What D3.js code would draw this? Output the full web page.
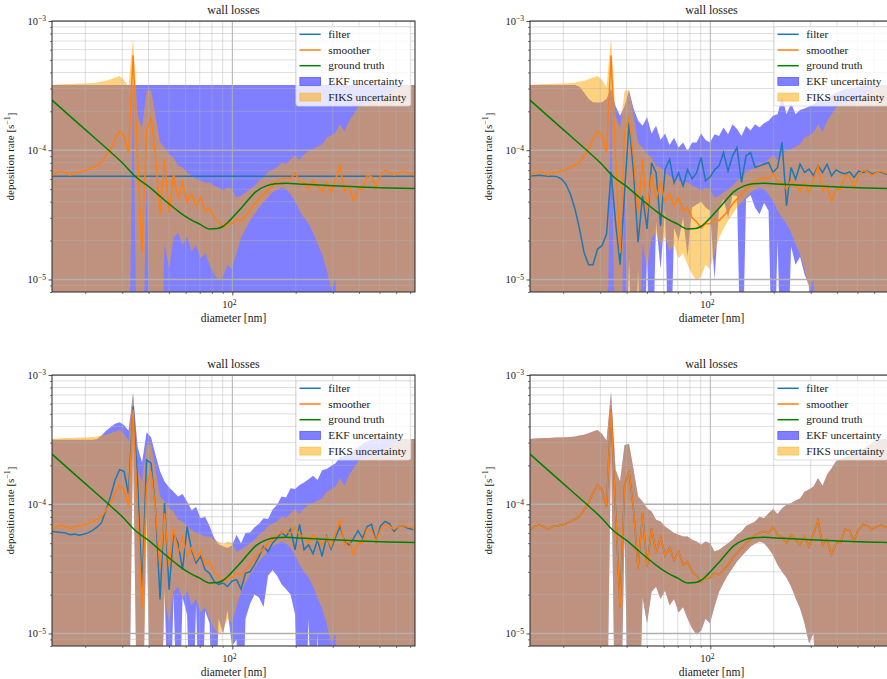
<!DOCTYPE html>
<html lang="en">
<head>
<meta charset="utf-8">
<title>wall losses</title>
<script src="https://d3js.org/d3.v7.min.js"></script>
<style>
    body { margin: 0; background: #fff; }
    text { font-family: "Liberation Serif", "DejaVu Serif", serif; fill: #1a1a1a; }
</style>
</head>
<body>
<script>
    // all rates below are in units of 1e-5 s^-1
    var unit = 1e-5;

    var diam = [13.9, 14.6, 15.34, 16.11, 16.93, 17.78, 18.68, 19.63, 20.62, 21.66,
        22.75, 23.9, 25.11, 26.38, 27.71, 29.11, 30.58, 32.12, 33.74, 35.45,
        37.24, 39.12, 41.09, 43.17, 45.35, 47.64, 50.04, 52.57, 55.22, 58.01,
        60.94, 64.02, 67.25, 70.64, 74.21, 77.95, 81.89, 86.03, 90.36, 94.88,
        99.67, 104.7, 110.0, 115.5, 121.4, 127.5, 133.9, 140.7, 147.8, 155.3,
        163.1, 171.3, 180.0, 189.1, 198.6, 208.7, 219.2, 230.2, 241.9, 254.1,
        266.9, 280.4, 294.5, 309.4, 325.0, 341.5, 358.7, 376.8, 395.8, 415.8,
        436.8, 458.8, 482.0, 506.3, 531.9, 558.8, 587.0, 616.6, 647.7, 680.4,
        714.8, 738];

    var smoother = [6.34, 6.73, 6.9, 6.73, 6.4, 6.73, 6.8, 6.9, 7.05, 7.35,
        7.65, 8.04, 9.05, 10.2, 12.2, 14.1, 12.9, 9.6, 54, 9,
        1.6, 14, 18, 9, 3.2, 8.5, 3.3, 6.5, 4.2, 5.6,
        4.0, 4.6, 3.7, 4.3, 3.4, 3.6, 3.0, 2.8, 2.5, 2.7,
        2.7, 2.95, 2.85, 3.1, 3.4, 3.85, 4.2, 4.55, 5.0, 5.3,
        5.8, 6.0, 6.15, 6.0, 6.65, 5.8, 5.6, 5.0, 5.8, 5.3,
        4.85, 5.6, 4.7, 6.0, 7.5, 4.85, 5.3, 4.05, 5.0, 5.0,
        6.4, 6.25, 5.15, 6.4, 7.0, 6.8, 6.4, 6.7, 6.9, 6.65,
        6.6, 6.3];

    var fiksHi = [32, 32.2, 32.4, 32.5, 32.6, 32.7, 32.8, 32.9, 33, 33.2,
        33.5, 34, 34.5, 35.5, 36.5, 37.5, 35, 31, 74, 18.5,
        15, 28.7, 29.3, 18.5, 11.5, 10.5, 9.3, 8.8, 7.57, 7.35,
        6.73, 6.34, 5.98, 5.8, 5.63, 5.63, 5.3, 5.15, 4.85, 5.15,
        5.0, 4.3, 4.45, 4.7, 5.0, 5.3, 5.8, 6.15, 6.8, 7.05,
        7.35, 8.0, 7.8, 8.5, 9.15, 8.4, 9.3, 9.9, 10.2, 10.7,
        11.1, 12.5, 13.0, 13.7, 15.9, 13.9, 16.9, 19.0, 21.5, 22.3,
        23.1, 23.7, 24.5, 25.5, 26.6, 28.2, 29.6, 31.1, 31.8, 32,
        32, 32];

    var fiksLo = [0.1, 0.1, 0.1, 0.1, 0.1, 0.1, 0.1, 0.1, 0.1, 0.1,
        0.1, 0.1, 0.1, 0.1, 0.1, 0.1, 0.1, 0.1, 30, 0.1,
        0.1, 6, 0.1, 0.1, 0.1, 1.9, 1.2, 2.1, 2.3, 1.85,
        2.15, 1.65, 1.85, 1.45, 1.6, 1.3, 1.1, 0.98, 1.05, 1.3,
        1.2, 1.62, 2.1, 2.46, 2.85, 3.2, 3.6, 3.95, 4.3, 4.7,
        4.95, 5.15, 5.0, 4.55, 4.05, 3.4, 3.0, 2.7, 2.31, 1.88,
        1.57, 1.2, 0.84, 1.0, 0.1, 0.1, 0.1, 0.1, 0.1, 0.1,
        0.1, 0.1, 0.1, 0.1, 0.1, 0.1, 0.1, 0.1, 0.1, 0.1,
        0.1, 0.1];

    var truthDiam = [13.9, 18, 22, 26, 30, 35, 40, 45, 50, 55, 60, 70, 78, 85,
        90, 95, 100, 110, 120, 130, 145, 160, 180, 220, 300, 400, 550, 738];
    var truth = [24.4, 16.8, 12.6, 9.9, 8.0, 6.15, 5.25, 4.45, 3.85, 3.4, 3.07, 2.68, 2.46, 2.48,
        2.57, 2.76, 3.0, 3.55, 4.2, 4.8, 5.3, 5.5, 5.55, 5.45, 5.3, 5.2, 5.1, 5.05];

    // top left: constant filter and flat EKF band
    var flatDiam = [13.9, 738];
    var filter1 = [6.3, 6.3];
    var ekf1Lo = [0.1, 0.1];
    var ekf1Hi = [32, 32];

    // top right
    var filter2 = [6.34, 6.34, 6.4, 6.34, 6.3, 6.3, 6.25, 5.98, 5.45, 4.55,
        3.5, 2.46, 1.62, 1.3, 1.3, 1.72, 1.83, 2.25, 6.8, 2.76,
        1.3, 4.7, 16.4, 6.7, 1.94, 4.44, 2.46, 8.0, 6.7, 2.6,
        7.1, 8.5, 5.6, 6.7, 5.3, 7.1, 6.0, 6.7, 8.8, 5.8,
        6.2, 7.05, 7.57, 9.6, 6.9, 9.05, 10.5, 5.63, 9.05, 9.6,
        7.35, 7.57, 7.8, 8.04, 6.73, 7.35, 11.5, 3.72, 7.35, 5.98,
        7.8, 6.73, 7.14, 6.34, 7.57, 6.73, 7.8, 6.34, 7.05, 6.73,
        6.55, 6.8, 6.15, 6.9, 6.73, 6.9, 6.55, 6.73, 6.8, 6.55,
        6.5, 6.4];
    var ekf2Hi = [32, 32, 32, 32, 32, 32, 32, 32, 32, 32,
        32, 31, 28, 25, 23.5, 23.4, 23.5, 25, 30, 22,
        18.5, 22, 29, 21, 17, 15.5, 18, 13.5, 15.5, 12,
        13.5, 11, 12.5, 10.5, 11.5, 9.8, 11.5, 11.5, 13.5, 12,
        11.5, 13.3, 12.9, 15.0, 13.3, 15.9, 14.6, 12.9, 15.4, 14.2,
        15.9, 15.0, 16.2, 16.9, 18.5, 19.0, 26.3, 19.0, 23.1, 19.0,
        20.5, 21.0, 21.8, 22.7, 24.1, 24.5, 25.5, 26.6, 27.9, 28.8,
        29.6, 30.0, 30.5, 31.1, 31.5, 31.8, 32, 32, 32, 32,
        32, 32];
    var ekf2Lo = [0.1, 0.1, 0.1, 0.1, 0.1, 0.1, 0.1, 0.1, 0.1, 0.1,
        0.1, 0.1, 0.1, 0.1, 0.1, 0.1, 0.1, 0.1, 0.1, 0.1,
        0.1, 0.1, 1.4, 0.1, 1.2, 0.1, 1.6, 0.1, 2.8, 1.2,
        3.5, 0.1, 2.5, 2.0, 3.0, 1.5, 3.6, 3.8, 4.0, 3.6,
        3.4, 1.0, 3.5, 4.2, 3.0, 4.5, 4.4, 0.1, 4.2, 4.5,
        3.6, 3.2, 3.9, 3.4, 0.1, 2.0, 0.1, 0.1, 1.8, 1.3,
        1.5, 1.1, 0.9, 0.1, 0.1, 0.1, 0.1, 0.1, 0.1, 0.1,
        0.1, 0.1, 0.1, 0.1, 0.1, 0.1, 0.1, 0.1, 0.1, 0.1,
        0.1, 0.1];

    // bottom left
    var filter3 = [6.15, 6.1, 6.05, 6.0, 5.8, 5.87, 5.75, 5.85, 6.0, 6.27,
        6.65, 7.2, 9.05, 11.5, 15.4, 18.5, 18, 12, 57, 15.4,
        2.18, 22, 20.8, 9.05, 1.83, 10.2, 2.18, 6.0, 5.0, 3.11,
        6.7, 4.44, 3.5, 3.95, 3.11, 2.93, 2.53, 2.4, 2.46, 2.31,
        2.55, 2.61, 2.2, 2.93, 3.0, 3.4, 3.95, 4.71, 4.3, 5.0,
        5.45, 6.05, 5.63, 6.4, 4.44, 7.0, 4.44, 4.85, 4.14, 5.31,
        3.95, 5.63, 4.5, 5.55, 6.73, 5.15, 4.85, 5.45, 6.25, 5.45,
        6.73, 7.0, 5.15, 6.8, 7.35, 7.05, 6.15, 6.73, 6.85, 6.55,
        6.4, 6.35];
    var ekf3Hi = [31.5, 31.5, 31.5, 31.5, 31.5, 31.5, 31.5, 31.5, 31.5, 31.5,
        32, 34, 37, 39.5, 42, 43, 41, 37, 72, 28,
        21, 36, 33, 24, 18, 15, 13.5, 12.5, 11.5, 12,
        10.5, 9.0, 9.5, 7.8, 8.0, 6.8, 5.5, 4.9, 4.7, 4.6,
        4.8, 5.8, 5.0, 6.0, 6.05, 6.65, 7.05, 7.8, 7.7, 9.05,
        9.9, 11.5, 11.3, 13.3, 13.1, 14.1, 14.7, 15.6, 16.6, 15.4,
        18.3, 18.7, 19.8, 20.8, 23.1, 23.7, 24.8, 26.0, 27.6, 29.3,
        30.7, 31.5, 32, 32, 32, 32, 32, 32, 32, 32,
        32, 32];
    var ekf3Lo = [0.1, 0.1, 0.1, 0.1, 0.1, 0.1, 0.1, 0.1, 0.1, 0.1,
        0.1, 0.1, 0.1, 0.1, 0.1, 0.1, 0.1, 0.1, 32, 0.1,
        0.1, 9, 0.1, 0.1, 0.1, 2.3, 0.1, 2.0, 0.1, 1.9,
        1.4, 0.1, 1.7, 0.1, 1.5, 1.2, 0.1, 1.3, 1.0, 1.5,
        0.8, 0.9, 0.1, 1.3, 1.7, 2.0, 1.9, 1.6, 2.8, 3.1,
        2.8, 2.4, 2.2, 2.0, 1.4, 0.1, 0.1, 1.3, 0.1, 1.0,
        0.1, 0.1, 0.1, 0.1, 0.1, 0.1, 0.1, 0.1, 0.1, 0.1,
        0.1, 0.1, 0.1, 0.1, 0.1, 0.1, 0.1, 0.1, 0.1, 0.1,
        0.1, 0.1];

    var yMajor = [1e-5, 1e-4, 1e-3];
    var yMajorExp = ["\u22125", "\u22124", "\u22123"];
    var yMinor = [8e-6, 9e-6, 2e-5, 3e-5, 4e-5, 5e-5, 6e-5, 7e-5, 8e-5, 9e-5,
        2e-4, 3e-4, 4e-4, 5e-4, 6e-4, 7e-4, 8e-4, 9e-4];
    var xMajor = [100];
    var xMinor = [20, 30, 40, 50, 60, 70, 80, 90, 200, 300, 400, 500, 600, 700];

    var legendItems = [
        {label: "filter", color: "#1f77b4", type: "line"},
        {label: "smoother", color: "#ff7f0e", type: "line"},
        {label: "ground truth", color: "green", type: "line"},
        {label: "EKF uncertainty", color: "blue", type: "patch"},
        {label: "FIKS uncertainty", color: "orange", type: "patch"}
    ];

    var panels = [
        {left: 52, top: 21, fx: flatDiam, filter: filter1, ex: flatDiam, lo: ekf1Lo, hi: ekf1Hi},
        {left: 530, top: 21, fx: diam, filter: filter2, ex: diam, lo: ekf2Lo, hi: ekf2Hi},
        {left: 52, top: 375, fx: diam, filter: filter3, ex: diam, lo: ekf3Lo, hi: ekf3Hi},
        {left: 530, top: 375, fx: diam, filter: smoother, ex: diam, lo: fiksLo, hi: fiksHi}
    ];

    var aw = 363, ah = 271;

    var x = d3.scaleLog().domain([13.9, 738]).range([0, aw]);
    var y = d3.scaleLog().domain([8e-6, 1e-3]).range([ah, 0]);

    var svg = d3.select("body").append("svg")
        .attr("width", 887)
        .attr("height", 679);

    function band(xs, lo, hi) {
        return d3.area()
            .x(function(d, i) { return x(xs[i]); })
            .y0(function(d, i) { return y(lo[i] * unit); })
            .y1(function(d, i) { return y(hi[i] * unit); })(xs);
    }

    function curve(xs, ys, c) {
        return d3.line()
            .x(function(d, i) { return x(xs[i]); })
            .y(function(d, i) { return y(ys[i] * unit); })
            .curve(c || d3.curveLinear)(xs);
    }

    function sup(sel, base, exp, tail) {
        sel.text(base);
        sel.append("tspan").attr("dy", "-0.45em").attr("font-size", "0.72em").text(exp);
        if (tail) sel.append("tspan").attr("dy", "0.45em").text(tail);
    }

    panels.forEach(function(p, n) {
        var g = svg.append("g").attr("transform", "translate(" + p.left + "," + p.top + ")");

        g.append("clipPath").attr("id", "clip" + n)
            .append("rect").attr("width", aw).attr("height", ah);

        var plot = g.append("g").attr("clip-path", "url(#clip" + n + ")");

        plot.append("path")
            .attr("d", band(p.ex, p.lo, p.hi))
            .attr("fill", "blue")
            .attr("fill-opacity", 0.5);

        plot.append("path")
            .attr("d", band(diam, fiksLo, fiksHi))
            .attr("fill", "orange")
            .attr("fill-opacity", 0.5);

        // grid sits above the bands, below the lines
        plot.selectAll(".gxm").data(xMinor).enter().append("line")
            .attr("x1", function(d) { return x(d); }).attr("x2", function(d) { return x(d); })
            .attr("y1", 0).attr("y2", ah)
            .attr("stroke", "#b0b0b0").attr("stroke-opacity", 0.55).attr("stroke-width", 0.8);
        plot.selectAll(".gym").data(yMinor).enter().append("line")
            .attr("y1", function(d) { return y(d); }).attr("y2", function(d) { return y(d); })
            .attr("x1", 0).attr("x2", aw)
            .attr("stroke", "#b0b0b0").attr("stroke-opacity", 0.55).attr("stroke-width", 0.8);
        plot.selectAll(".gx").data(xMajor).enter().append("line")
            .attr("x1", function(d) { return x(d); }).attr("x2", function(d) { return x(d); })
            .attr("y1", 0).attr("y2", ah)
            .attr("stroke", "#b0b0b0").attr("stroke-width", 1);
        plot.selectAll(".gy").data(yMajor).enter().append("line")
            .attr("y1", function(d) { return y(d); }).attr("y2", function(d) { return y(d); })
            .attr("x1", 0).attr("x2", aw)
            .attr("stroke", "#b0b0b0").attr("stroke-width", 1.6);

        plot.append("path")
            .attr("d", curve(p.fx, p.filter))
            .attr("fill", "none").attr("stroke", "#1f77b4").attr("stroke-width", 1.5);
        plot.append("path")
            .attr("d", curve(diam, smoother))
            .attr("fill", "none").attr("stroke", "#ff7f0e").attr("stroke-width", 1.5);
        plot.append("path")
            .attr("d", curve(truthDiam, truth, d3.curveMonotoneX))
            .attr("fill", "none").attr("stroke", "green").attr("stroke-width", 1.5);

        // frame and ticks
        g.append("rect")
            .attr("width", aw).attr("height", ah)
            .attr("fill", "none").attr("stroke", "#262626").attr("stroke-width", 1);

        g.append("g").attr("transform", "translate(0," + ah + ")")
            .call(d3.axisBottom(x).tickValues(xMinor).tickSize(2).tickFormat(""))
            .call(function(a) { a.select(".domain").remove(); a.selectAll("line").attr("stroke", "#262626").attr("stroke-width", 0.6); });
        g.append("g").attr("transform", "translate(0," + ah + ")")
            .call(d3.axisBottom(x).tickValues(xMajor).tickSize(3.5).tickFormat(""))
            .call(function(a) { a.select(".domain").remove(); a.selectAll("line").attr("stroke", "#262626").attr("stroke-width", 0.8); });
        g.append("g")
            .call(d3.axisLeft(y).tickValues(yMinor).tickSize(2).tickFormat(""))
            .call(function(a) { a.select(".domain").remove(); a.selectAll("line").attr("stroke", "#262626").attr("stroke-width", 0.6); });
        g.append("g")
            .call(d3.axisLeft(y).tickValues(yMajor).tickSize(3.5).tickFormat(""))
            .call(function(a) { a.select(".domain").remove(); a.selectAll("line").attr("stroke", "#262626").attr("stroke-width", 0.8); });

        yMajor.forEach(function(v, i) {
            g.append("text")
                .attr("x", -6).attr("y", y(v)).attr("dy", "0.35em")
                .attr("text-anchor", "end").attr("font-size", 10.5)
                .call(sup, "10", yMajorExp[i]);
        });
        xMajor.forEach(function(v) {
            g.append("text")
                .attr("x", x(v) - 3).attr("y", ah + 16)
                .attr("text-anchor", "middle").attr("font-size", 10.5)
                .call(sup, "10", "2");
        });

        g.append("text")
            .attr("x", aw / 2).attr("y", -7)
            .attr("text-anchor", "middle").attr("font-size", 12)
            .text("wall losses");
        g.append("text")
            .attr("x", aw / 2).attr("y", ah + 30)
            .attr("text-anchor", "middle").attr("font-size", 11.5)
            .text("diameter [nm]");
        g.append("text")
            .attr("transform", "translate(-38," + (ah / 2) + ") rotate(-90)")
            .attr("text-anchor", "middle").attr("font-size", 11)
            .call(sup, "deposition rate [s", "\u22121", "]");

        // legend
        var lg = g.append("g").attr("transform", "translate(244,5.7)");
        lg.append("rect")
            .attr("width", 114.7).attr("height", 79.3).attr("rx", 2.5)
            .attr("fill", "white").attr("fill-opacity", 0.8)
            .attr("stroke", "#d5d5d5").attr("stroke-width", 0.8);
        var rows = lg.selectAll(".row").data(legendItems).enter().append("g")
            .attr("transform", function(d, i) { return "translate(0," + (7.6 + i * 15.7) + ")"; });
        rows.filter(function(d) { return d.type === "line"; }).append("line")
            .attr("x1", 3.5).attr("x2", 24.7).attr("y1", 0).attr("y2", 0)
            .attr("stroke", function(d) { return d.color; }).attr("stroke-width", 1.5);
        rows.filter(function(d) { return d.type === "patch"; }).append("rect")
            .attr("x", 3.8).attr("y", -4).attr("width", 20.8).attr("height", 8)
            .attr("fill", function(d) { return d.color; }).attr("fill-opacity", 0.5)
            .attr("stroke", function(d) { return d.color; }).attr("stroke-opacity", 0.5).attr("stroke-width", 0.8);
        rows.append("text")
            .attr("x", 32.3).attr("y", 0).attr("dy", "0.33em")
            .attr("font-size", 11.3)
            .text(function(d) { return d.label; });
    });
</script>
</body>
</html>
